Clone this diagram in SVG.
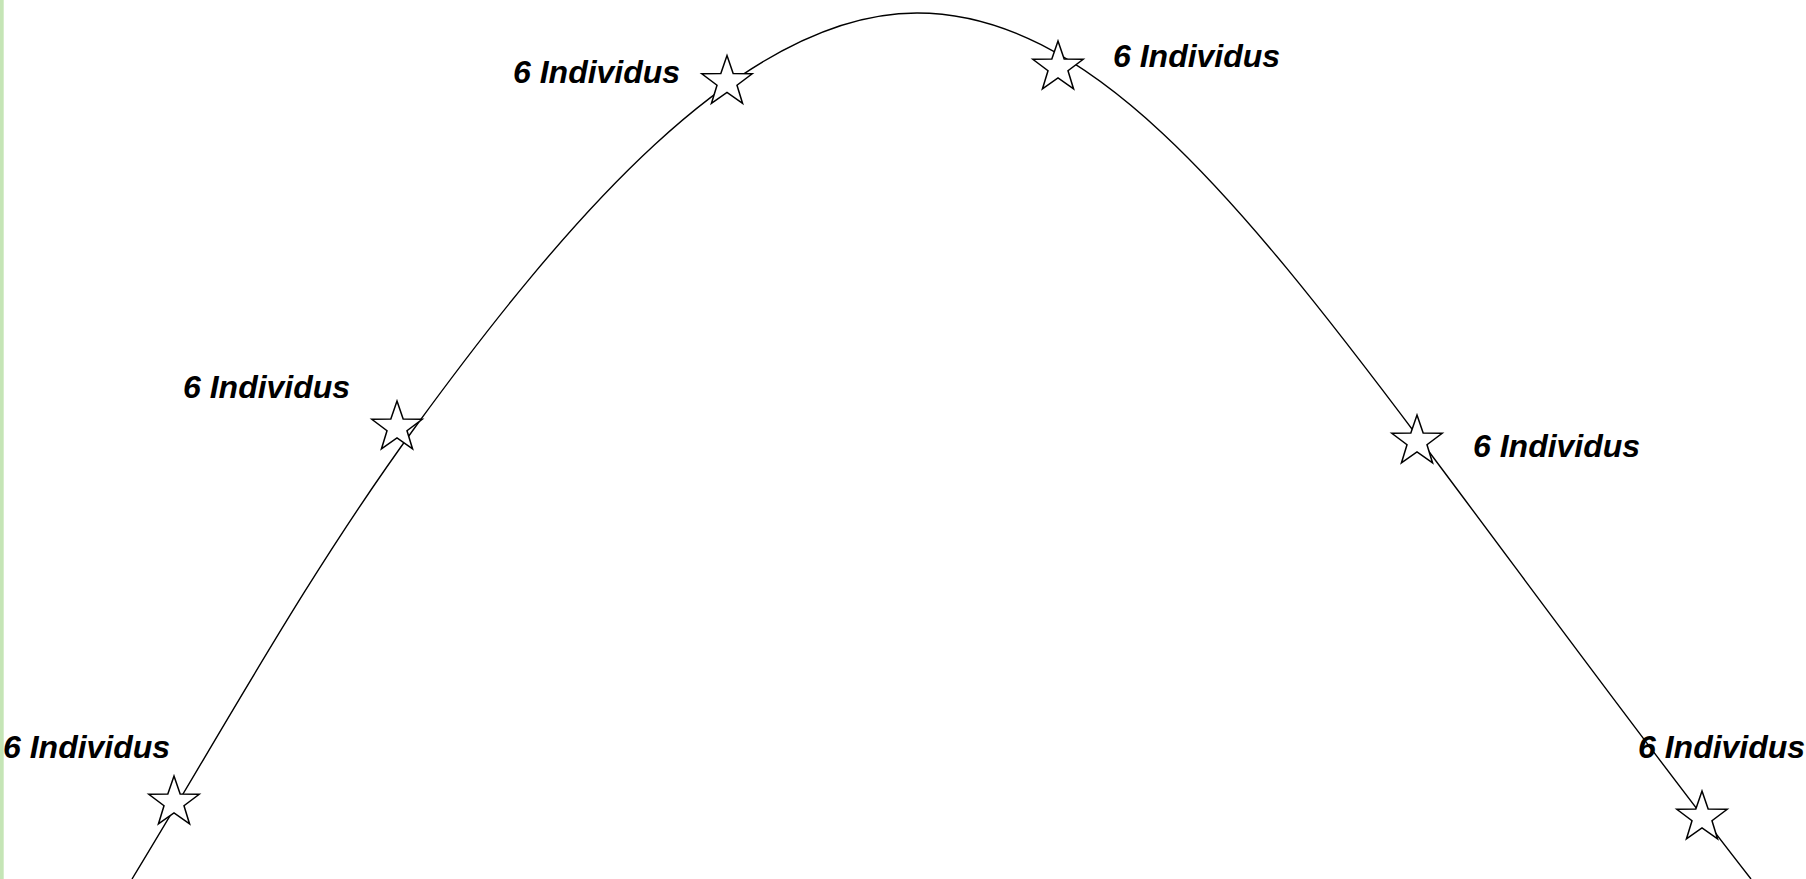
<svg xmlns="http://www.w3.org/2000/svg" width="1806" height="879" viewBox="0 0 1806 879">
  <style>
    .edge { fill: none; stroke: #000; stroke-width: 1.4; }
    .star { fill: #fff; stroke: #000; stroke-width: 1.5; stroke-linejoin: miter; }
    .lbl { font-family: "Liberation Sans", Arial, sans-serif; font-size: 32px; font-weight: bold; font-style: italic; fill: #000; }
  </style>
  <defs>
    <polygon id="starShape" points="0,-26.5 6.17,-8.49 25.2,-8.19 9.99,3.24 15.58,21.44 0,10.5 -15.58,21.44 -9.99,3.24 -25.2,-8.19 -6.17,-8.49"/>
  </defs>
  <rect x="0" y="0" width="1806" height="879" fill="#ffffff"/>
  <rect x="0" y="0" width="3.7" height="879" fill="#c5e5b6"/>
  <g id="connectors">
    <path class="edge" d="M132,879 C223.5,729 306.5,576 416,426 C562,226 740,13 917,13 C1087,13 1233.5,191 1421,441 C1533.5,591 1634,729 1751,879"/>
  </g>
  <g id="node1">
    <use href="#starShape" class="star" transform="translate(174,802.5)"/>
    <text class="lbl" x="3" y="758">6 Individus</text>
  </g>
  <g id="node2">
    <use href="#starShape" class="star" transform="translate(397,427.5)"/>
    <text class="lbl" x="183" y="398">6 Individus</text>
  </g>
  <g id="node3">
    <use href="#starShape" class="star" transform="translate(727,82)"/>
    <text class="lbl" x="513" y="83">6 Individus</text>
  </g>
  <g id="node4">
    <use href="#starShape" class="star" transform="translate(1058,67.5)"/>
    <text class="lbl" x="1113" y="67">6 Individus</text>
  </g>
  <g id="node5">
    <use href="#starShape" class="star" transform="translate(1417,441.5)"/>
    <text class="lbl" x="1473" y="457">6 Individus</text>
  </g>
  <g id="node6">
    <use href="#starShape" class="star" transform="translate(1702,817.5)"/>
    <text class="lbl" x="1638" y="758">6 Individus</text>
  </g>
</svg>
